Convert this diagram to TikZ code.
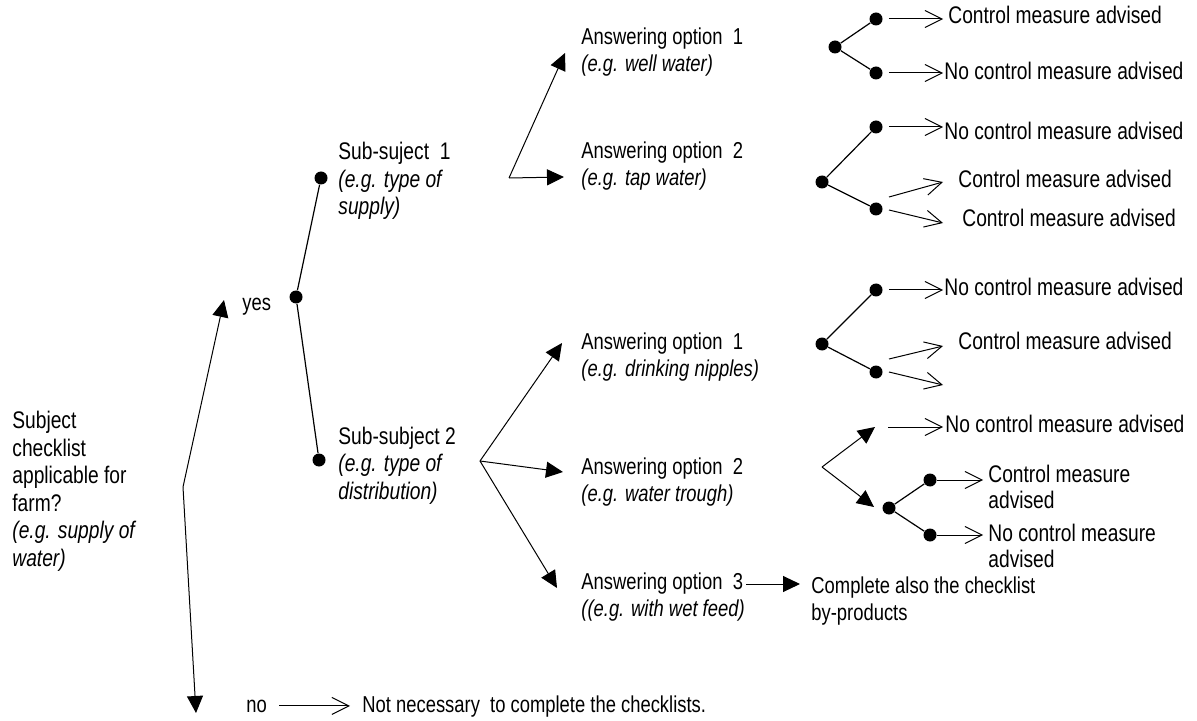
\documentclass[tikz,border=0pt]{standalone}
\usepackage{fontspec}
\setmainfont{Liberation Sans}[FakeStretch=0.8]
\usetikzlibrary{arrows.meta}
\definecolor{ink}{HTML}{000000}
\tikzset{
  label text/.style={
    anchor=base west,
    inner sep=0pt,
    align=left,
    text=ink,
    font=\fontsize{11.5}{13.5}\selectfont
  },
  result text/.style={
    label text,
    font=\fontsize{12}{12.75}\selectfont
  },
  dot/.style={
    circle,
    fill=ink,
    inner sep=0pt,
    minimum size=6.5pt
  },
  branch/.style={
    draw=ink,
    line width=0.6pt
  },
  choice/.style={
    -{Triangle[length=8.5pt,width=8pt]},
    draw=ink,
    line width=0.5pt
  },
  outcome/.style={
    -{Straight Barb[length=8.5pt,width=8.5pt]},
    draw=ink,
    line width=0.5pt
  }
}

\begin{document}
\begin{tikzpicture}[x=0.5pt, y=-0.5pt]
  \useasboundingbox (0,0) rectangle (1197,721);

  % multi-line texts are placed by the baseline of their last line
  % subject, yes / no
  \node[label text, font=\fontsize{12}{13.75}\selectfont] (subject) at (12,566)
    {Subject\\checklist\\applicable for\\farm?\\\textit{(e.g. supply of}\\\textit{water)}};
  \coordinate (fork) at (183,487);
  \coordinate (yestip) at (224,300);
  \coordinate (notip) at (196,713);
  \node[label text] (yes) at (242,310) {yes};
  \node[label text] (no) at (246,712) {no};
  \node[label text] (notneeded) at (362,712) {Not necessary~ to complete the checklists.};
  \draw[choice] (fork) -- (yestip);
  \draw[choice] (fork) -- (notip);
  \draw[outcome, shorten <=6pt, shorten >=6pt] (no.east) -- (no.east -| notneeded.west);

  % sub-subjects
  \node[dot] (dyes) at (296,297) {};
  \node[dot] (dsub1) at (321,178) {};
  \node[dot] (dsub2) at (319,460) {};
  \draw[branch] (dyes) -- (dsub1);
  \draw[branch] (dyes) -- (dsub2);
  \node[label text, font=\fontsize{12}{13.75}\selectfont] (sub1) at (338,215) {Sub-suject~ 1\\\textit{(e.g. type of}\\\textit{supply)}};
  \node[label text, font=\fontsize{12}{13.75}\selectfont] (sub2) at (338,499) {Sub-subject 2\\\textit{(e.g. type of}\\\textit{distribution)}};

  % answering options
  \node[label text] (opt1a) at (581,72) {Answering option~ 1\\\textit{(e.g. well water)}};
  \node[label text] (opt2a) at (581,186) {Answering option~ 2\\\textit{(e.g. tap water)}};
  \node[label text] (opt1b) at (581,376) {Answering option~ 1\\\textit{(e.g. drinking nipples)}};
  \node[label text] (opt2b) at (581,501) {Answering option~ 2\\\textit{(e.g. water trough)}};
  \node[label text] (opt3) at (581,616) {Answering option~ 3\\\textit{((e.g. with wet feed)}};
  \node[label text] (complete) at (811,620) {Complete also the checklist\\by-products};

  \coordinate (s1fork) at (509,178);
  \coordinate (s2fork) at (480,461);
  \draw[choice] (s1fork) -- (565,53) coordinate (t1a);
  \draw[choice] (s1fork) -- (564,177) coordinate (t2a);
  \draw[choice] (s2fork) -- (562,343) coordinate (t1b);
  \draw[choice] (s2fork) -- (563,472) coordinate (t2b);
  \draw[choice] (s2fork) -- (557,588) coordinate (t3);
  \coordinate (o3out) at (746,584);
  \draw[choice, shorten >=5.5pt] (o3out) -- (o3out -| complete.west);

  % outcomes
  \node[result text] (r1) at (948,24) {Control measure advised};
  \node[result text] (r2) at (944,80) {No control measure advised};
  \node[result text] (r3) at (944,140) {No control measure advised};
  \node[result text] (r4) at (958,188) {Control measure advised};
  \node[result text] (r5) at (962,227) {Control measure advised};
  \node[result text] (r6) at (944,296) {No control measure advised};
  \node[result text] (r7) at (958,349) {Control measure advised};
  \node[result text] (r8) at (945,432) {No control measure advised};
  \node[result text] (r9) at (988,508) {Control measure\\advised};
  \node[result text] (r10) at (988,567) {No control measure\\advised};

  % tree for well water
  \node[dot] (a0) at (835,47) {};
  \node[dot] (a1) at (876,19) {};
  \node[dot] (a2) at (876,73) {};
  \draw[branch] (a0) -- (a1);
  \draw[branch] (a0) -- (a2);
  \draw[outcome, shorten <=3pt, shorten >=2.5pt] (a1.east) -- (a1 -| r1.west);
  \draw[outcome, shorten <=3pt, shorten >=0.5pt] (a2.east) -- (a2 -| r2.west);

  % tree for tap water
  \node[dot] (b0) at (822,182) {};
  \node[dot] (b1) at (876,127) {};
  \node[dot] (b2) at (876,209) {};
  \draw[branch] (b0) -- (b1);
  \draw[branch] (b0) -- (b2);
  \draw[outcome, shorten <=3pt, shorten >=0.5pt] (b1.east) -- (b1 -| r3.west);
  \draw[outcome] ([shift={(13,-12)}]b2.center) -- (943,182);
  \draw[outcome] ([shift={(13,1)}]b2.center) -- (943,223);

  % tree for drinking nipples
  \node[dot] (c0) at (822,344) {};
  \node[dot] (c1) at (876,290) {};
  \node[dot] (c2) at (876,372) {};
  \draw[branch] (c0) -- (c1);
  \draw[branch] (c0) -- (c2);
  \draw[outcome, shorten <=3pt, shorten >=0.5pt] (c1.east) -- (c1 -| r6.west);
  \draw[outcome] ([shift={(13,-13)}]c2.center) -- (943,346);
  \draw[outcome] ([shift={(13,0)}]c2.center) -- (943,385);

  % tree for water trough
  \coordinate (d0) at (822,467);
  \coordinate (d1) at (875,427);
  \coordinate (d2) at (874,507);
  \draw[choice] (d0) -- (d1);
  \draw[choice] (d0) -- (d2);
  \draw[outcome, shorten >=1pt] ([xshift=6.5pt]d1) -- (d1 -| r8.west);
  \node[dot] (e0) at (889,508) {};
  \node[dot] (e1) at (930,480) {};
  \node[dot] (e2) at (930,535) {};
  \draw[branch] (e0) -- (e1);
  \draw[branch] (e0) -- (e2);
  \draw[outcome, shorten >=2.5pt] (e1) -- (e1 -| r9.west);
  \draw[outcome, shorten >=2.5pt] (e2) -- (e2 -| r10.west);
\end{tikzpicture}
\end{document}
